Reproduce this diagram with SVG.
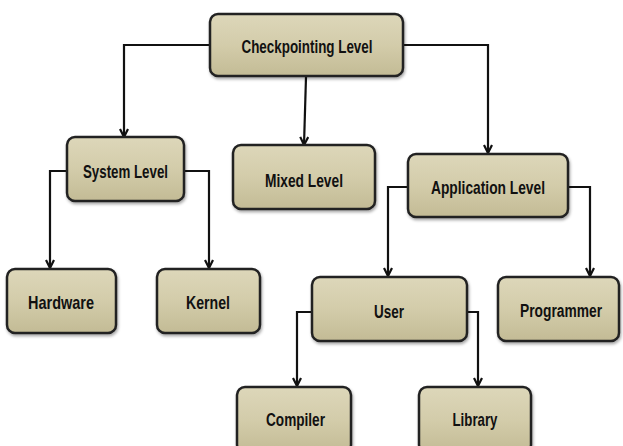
<svg xmlns="http://www.w3.org/2000/svg" width="623" height="446" viewBox="0 0 623 446">
<defs>
<linearGradient id="g" x1="0" y1="0" x2="0" y2="1">
<stop offset="0" stop-color="#ddd7ba"/>
<stop offset="0.5" stop-color="#d3ccaa"/>
<stop offset="1" stop-color="#c3bb95"/>
</linearGradient>
<filter id="sh" x="-10%" y="-10%" width="120%" height="130%">
<feDropShadow dx="1" dy="2" stdDeviation="1.5" flood-color="#000" flood-opacity="0.35"/>
</filter>
<marker id="ar" viewBox="0 0 10 10" refX="9" refY="5" markerWidth="10" markerHeight="10" markerUnits="userSpaceOnUse" orient="auto">
<path d="M1,1 L9,5 L1,9" fill="none" stroke="#111" stroke-width="2.2"/>
</marker>
<style>
.box{fill:url(#g);stroke:#222;stroke-width:2.5;filter:url(#sh)}
.t{font-family:"Liberation Sans",Arial,sans-serif;font-weight:bold;font-size:19px;fill:#111;text-anchor:middle;dominant-baseline:central}
.c{fill:none;stroke:#111;stroke-width:2.2}
</style>
</defs>
<rect width="623" height="446" fill="#fff"/>
<g id="connectors">
<path class="c" d="M210,45 H124 V137" marker-end="url(#ar)"/>
<path class="c" d="M403,45 H488 V153" marker-end="url(#ar)"/>
<path class="c" d="M306,77 L304,145" marker-end="url(#ar)"/>
<path class="c" d="M67,171 H50 V268" marker-end="url(#ar)"/>
<path class="c" d="M184,171 H209 V268" marker-end="url(#ar)"/>
<path class="c" d="M408,187 H388 V276" marker-end="url(#ar)"/>
<path class="c" d="M568,187 H590 V276" marker-end="url(#ar)"/>
<path class="c" d="M312,312 H297 V386" marker-end="url(#ar)"/>
<path class="c" d="M467,312 H478 V386" marker-end="url(#ar)"/>
</g>
<g id="checkpointing">
<rect class="box" x="210" y="14" width="193" height="62" rx="8"/>
<text class="t" x="307" y="46" textLength="131" lengthAdjust="spacingAndGlyphs">Checkpointing Level</text>
</g>
<g id="system">
<rect class="box" x="67" y="137" width="117" height="64" rx="8"/>
<text class="t" x="125.5" y="171" textLength="85" lengthAdjust="spacingAndGlyphs">System Level</text>
</g>
<g id="mixed">
<rect class="box" x="233" y="145" width="142" height="64" rx="8"/>
<text class="t" x="304" y="180" textLength="78" lengthAdjust="spacingAndGlyphs">Mixed Level</text>
</g>
<g id="application">
<rect class="box" x="408" y="154" width="160" height="63" rx="8"/>
<text class="t" x="488" y="187" textLength="114" lengthAdjust="spacingAndGlyphs">Application Level</text>
</g>
<g id="hardware">
<rect class="box" x="7" y="269" width="109" height="64" rx="8"/>
<text class="t" x="61" y="302" textLength="66" lengthAdjust="spacingAndGlyphs">Hardware</text>
</g>
<g id="kernel">
<rect class="box" x="157" y="269" width="103" height="64" rx="8"/>
<text class="t" x="208" y="302" textLength="44" lengthAdjust="spacingAndGlyphs">Kernel</text>
</g>
<g id="user">
<rect class="box" x="312" y="277" width="155" height="64" rx="8"/>
<text class="t" x="389" y="311" textLength="30" lengthAdjust="spacingAndGlyphs">User</text>
</g>
<g id="programmer">
<rect class="box" x="498" y="277" width="121" height="64" rx="8"/>
<text class="t" x="561" y="311" style="font-size:18px" textLength="82" lengthAdjust="spacingAndGlyphs">Programmer</text>
</g>
<g id="compiler">
<rect class="box" x="237" y="387" width="114" height="66" rx="8"/>
<text class="t" x="295.5" y="419" textLength="59" lengthAdjust="spacingAndGlyphs">Compiler</text>
</g>
<g id="library">
<rect class="box" x="419" y="387" width="112" height="66" rx="8"/>
<text class="t" x="475" y="419" textLength="45" lengthAdjust="spacingAndGlyphs">Library</text>
</g>
</svg>
